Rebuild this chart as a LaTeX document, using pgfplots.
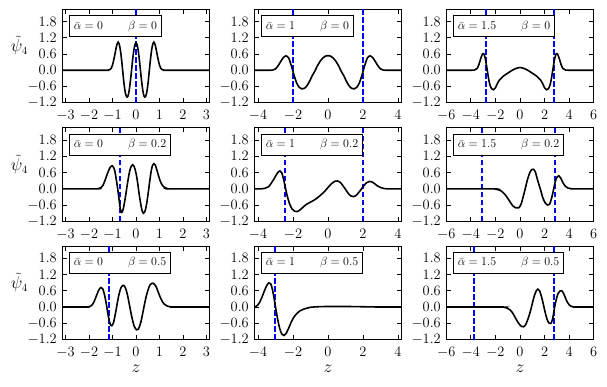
\documentclass[border=0pt]{standalone}
\usepackage{pgfplots}
\pgfplotsset{compat=1.18}
\pgfplotsset{
 panel/.style={scale only axis, width=147.5pt, height=93.4pt, anchor=north west,
   ymin=-1.2, ymax=2.25, ytick={-1.2,-0.6,0,0.6,1.2,1.8},
   yticklabel style={xshift=-2pt, /pgf/number format/.cd, fixed, fixed zerofill, precision=1},
   tick align=inside, xtick pos=both, ytick pos=both, major tick length=4.5pt,
   tick style={black, line width=0.8pt},
   axis line style={line width=1.1pt},
   tick label style={font=\fontsize{15.5}{17}\selectfont},
   xticklabel style={yshift=-4pt},
   label style={font=\fontsize{16}{18}\selectfont}},
 c1/.style={xmin=-3.14, xmax=3.14, xtick={-3,-2,-1,0,1,2,3}},
 c2/.style={xmin=-4.22, xmax=4.22, xtick={-4,-2,0,2,4}},
 c3/.style={xmin=-6, xmax=6, xtick={-6,-4,-2,0,2,4,6}},
 psilab/.style={ylabel={$\tilde\psi_4$}, ylabel style={rotate=-90, at={(rel axis cs:-0.29,0.61)}, anchor=center}},
 zlab/.style={xlabel={$z$}, xlabel style={at={(rel axis cs:0.5,0)}, anchor=center, yshift=-29pt}},
 curve/.style={black, line width=1.6pt, smooth},
 vline/.style={color=blue, line width=2pt, line cap=butt, dash pattern=on 5.5pt off 2.5pt},
}
\tikzset{lbox/.style={draw, fill=white, line width=1.1pt, anchor=north west, inner xsep=4.5pt, inner ysep=5pt, text height=8.5pt, text depth=2.8pt, font=\fontsize{12}{14}\selectfont}}
\newcommand{\boxlab}[2]{\node[lbox] at ([xshift=6.5pt,yshift=-5.7pt]rel axis cs:0,1) {$\bar\alpha=#1$\hspace{25pt}$\beta=#2$};}
\begin{document}
\begin{tikzpicture}
% ---------- row 1 ----------
\begin{axis}[panel, c1, psilab, at={(62.25pt,-9.3pt)}]
\addplot[vline] coordinates {(0,-1.2) (0,2.3)};
\addplot[curve] coordinates {
(-3.2,0) (-1.3,0) (-1.2,0) (-1.15,0.01) (-1.10,0.03) (-1.05,0.08) (-1.00,0.19) (-0.95,0.37) (-0.90,0.58) (-0.85,0.81) (-0.80,0.98) (-0.76,1.04) (-0.72,0.98) (-0.68,0.82) (-0.64,0.58) (-0.60,0.27) (-0.56,-0.08) (-0.52,-0.42) (-0.48,-0.70) (-0.44,-0.89) (-0.40,-0.98) (-0.37,-0.99) (-0.34,-0.95) (-0.30,-0.80) (-0.25,-0.49) (-0.20,-0.09) (-0.15,0.33) (-0.10,0.69) (-0.05,0.93) (0,1.01)
(0.05,0.93) (0.10,0.69) (0.15,0.33) (0.20,-0.09) (0.25,-0.49) (0.30,-0.80) (0.34,-0.95) (0.37,-0.99) (0.40,-0.98) (0.44,-0.89) (0.48,-0.70) (0.52,-0.42) (0.56,-0.08) (0.60,0.27) (0.64,0.58) (0.68,0.82) (0.72,0.98) (0.76,1.04) (0.80,0.98) (0.85,0.81) (0.90,0.58) (0.95,0.37) (1.00,0.19) (1.05,0.08) (1.10,0.03) (1.15,0.01) (1.2,0) (1.3,0) (3.2,0)};
\boxlab{0}{0}
\end{axis}
\begin{axis}[panel, c2, at={(254.25pt,-9.3pt)}]
\addplot[vline] coordinates {(-2,-1.2) (-2,2.3)};
\addplot[vline] coordinates {(2,-1.2) (2,2.3)};
\addplot[curve] coordinates {
(-4.3,0) (-3.3,0) (-3.15,0.01) (-3.0,0.05) (-2.85,0.17) (-2.7,0.33) (-2.55,0.47) (-2.4,0.53) (-2.25,0.45) (-2.1,0.17) (-1.95,-0.17) (-1.8,-0.46) (-1.65,-0.63) (-1.5,-0.69) (-1.35,-0.67) (-1.2,-0.57) (-1.05,-0.40) (-0.9,-0.20) (-0.75,-0.03) (-0.6,0.17) (-0.45,0.33) (-0.3,0.45) (-0.15,0.52) (0,0.54)
(0.15,0.52) (0.3,0.45) (0.45,0.33) (0.6,0.17) (0.75,-0.03) (0.9,-0.20) (1.05,-0.40) (1.2,-0.57) (1.35,-0.67) (1.5,-0.69) (1.65,-0.63) (1.8,-0.46) (1.95,-0.17) (2.1,0.17) (2.25,0.45) (2.4,0.53) (2.55,0.47) (2.7,0.33) (2.85,0.17) (3.0,0.05) (3.15,0.01) (3.3,0) (4.3,0)};
\boxlab{1}{0}
\end{axis}
\begin{axis}[panel, c3, at={(446.25pt,-9.3pt)}]
\addplot[vline] coordinates {(-2.77,-1.2) (-2.77,2.3)};
\addplot[vline] coordinates {(2.77,-1.2) (2.77,2.3)};
\addplot[curve] coordinates {
(-6,0) (-4.0,0) (-3.7,0.01) (-3.5,0.06) (-3.35,0.20) (-3.2,0.42) (-3.05,0.60) (-2.95,0.61) (-2.85,0.48) (-2.75,0.24) (-2.65,-0.04) (-2.55,-0.32) (-2.45,-0.54) (-2.3,-0.69) (-2.15,-0.72) (-2.0,-0.65) (-1.85,-0.50) (-1.7,-0.38) (-1.5,-0.28) (-1.3,-0.20) (-1.1,-0.14) (-0.9,-0.08) (-0.7,-0.02) (-0.5,0.03) (-0.3,0.07) (-0.15,0.09) (0,0.10)
(0.15,0.09) (0.3,0.07) (0.5,0.03) (0.7,-0.02) (0.9,-0.08) (1.1,-0.14) (1.3,-0.20) (1.5,-0.28) (1.7,-0.38) (1.85,-0.50) (2.0,-0.65) (2.15,-0.72) (2.3,-0.69) (2.45,-0.54) (2.55,-0.32) (2.65,-0.04) (2.75,0.24) (2.85,0.48) (2.95,0.61) (3.05,0.60) (3.2,0.42) (3.35,0.20) (3.5,0.06) (3.7,0.01) (4.0,0) (6,0)};
\boxlab{1.5}{0}
\end{axis}
% ---------- row 2 ----------
\begin{axis}[panel, c1, psilab, at={(62.25pt,-127.9pt)}]
\addplot[vline] coordinates {(-0.68,-1.2) (-0.68,2.3)};
\addplot[curve] coordinates {
(-3.2,0) (-1.7,0) (-1.6,0.01) (-1.5,0.04) (-1.4,0.14) (-1.3,0.36) (-1.2,0.60) (-1.1,0.79) (-1.01,0.85) (-0.92,0.72) (-0.85,0.40) (-0.78,0.00) (-0.72,-0.40) (-0.67,-0.72) (-0.62,-0.87) (-0.56,-0.80) (-0.50,-0.56) (-0.42,-0.13) (-0.35,0.27) (-0.27,0.65) (-0.20,0.84) (-0.14,0.89) (-0.08,0.83) (0.0,0.58) (0.07,0.22) (0.13,-0.17) (0.20,-0.55) (0.26,-0.81) (0.32,-0.90) (0.38,-0.84) (0.45,-0.57) (0.52,-0.15) (0.58,0.25) (0.64,0.62) (0.70,0.86) (0.76,0.93) (0.82,0.88) (0.90,0.66) (0.98,0.42) (1.06,0.23) (1.14,0.11) (1.22,0.05) (1.30,0.02) (1.40,0.0) (3.2,0)};
\boxlab{0}{0.2}
\end{axis}
\begin{axis}[panel, c2, at={(254.25pt,-127.9pt)}]
\addplot[vline] coordinates {(-2.46,-1.2) (-2.46,2.3)};
\addplot[vline] coordinates {(2.0,-1.2) (2.0,2.3)};
\addplot[curve] coordinates {
(-4.3,0) (-3.8,0) (-3.6,0.02) (-3.4,0.08) (-3.2,0.25) (-3.0,0.47) (-2.85,0.62) (-2.75,0.66) (-2.65,0.60) (-2.55,0.38) (-2.45,0.08) (-2.35,-0.22) (-2.2,-0.55) (-2.05,-0.75) (-1.9,-0.83) (-1.75,-0.84) (-1.6,-0.78) (-1.4,-0.66) (-1.2,-0.56) (-1.0,-0.49) (-0.8,-0.42) (-0.6,-0.33) (-0.4,-0.22) (-0.2,-0.10) (0.0,0.05) (0.2,0.19) (0.4,0.28) (0.55,0.29) (0.7,0.24) (0.85,0.12) (1.0,-0.02) (1.15,-0.16) (1.3,-0.26) (1.45,-0.29) (1.6,-0.25) (1.75,-0.14) (1.9,-0.02) (2.05,0.12) (2.2,0.22) (2.35,0.27) (2.5,0.26) (2.65,0.20) (2.8,0.12) (3.0,0.05) (3.2,0.01) (3.4,0) (4.3,0)};
\boxlab{1}{0.2}
\end{axis}
\begin{axis}[panel, c3, at={(446.25pt,-127.9pt)}]
\addplot[vline] coordinates {(-3.09,-1.2) (-3.09,2.3)};
\addplot[vline] coordinates {(2.85,-1.2) (2.85,2.3)};
\addplot[curve] coordinates {
(-6,0) (-2.2,0) (-2.0,-0.01) (-1.8,-0.03) (-1.5,-0.09) (-1.2,-0.22) (-0.9,-0.42) (-0.6,-0.62) (-0.35,-0.70) (-0.1,-0.70) (0.1,-0.55) (0.3,-0.22) (0.45,0.05) (0.6,0.33) (0.8,0.60) (0.95,0.71) (1.1,0.72) (1.25,0.62) (1.45,0.29) (1.65,0.0) (1.85,-0.32) (2.05,-0.52) (2.25,-0.60) (2.4,-0.57) (2.55,-0.38) (2.7,-0.09) (2.85,0.23) (3.0,0.43) (3.15,0.48) (3.3,0.41) (3.5,0.22) (3.7,0.09) (3.9,0.03) (4.1,0.01) (4.3,0) (6,0)};
\boxlab{1.5}{0.2}
\end{axis}
% ---------- row 3 ----------
\begin{axis}[panel, c1, psilab, zlab, at={(62.25pt,-246.1pt)}]
\addplot[vline] coordinates {(-1.15,-1.2) (-1.15,2.3)};
\addplot[curve] coordinates {
(-3.2,0) (-2.1,0) (-2.0,0.01) (-1.9,0.05) (-1.8,0.17) (-1.7,0.38) (-1.6,0.60) (-1.5,0.72) (-1.42,0.68) (-1.34,0.45) (-1.26,0.09) (-1.18,-0.33) (-1.10,-0.63) (-1.03,-0.69) (-0.96,-0.58) (-0.88,-0.26) (-0.80,0.13) (-0.72,0.48) (-0.64,0.71) (-0.55,0.80) (-0.46,0.73) (-0.37,0.47) (-0.28,0.08) (-0.18,-0.36) (-0.08,-0.70) (0.02,-0.84) (0.10,-0.82) (0.20,-0.58) (0.30,-0.17) (0.40,0.26) (0.50,0.60) (0.60,0.82) (0.72,0.88) (0.84,0.78) (0.96,0.52) (1.08,0.27) (1.20,0.11) (1.32,0.04) (1.45,0.01) (1.6,0) (3.2,0)};
\boxlab{0}{0.5}
\end{axis}
\begin{axis}[panel, c2, zlab, at={(254.25pt,-246.1pt)}]
\addplot[vline] coordinates {(-3.03,-1.2) (-3.03,2.3)};
\addplot[curve] coordinates {
(-4.22,0.0) (-4.1,0.03) (-3.95,0.13) (-3.8,0.33) (-3.65,0.58) (-3.5,0.80) (-3.38,0.89) (-3.28,0.86) (-3.18,0.65) (-3.08,0.30) (-2.98,-0.08) (-2.88,-0.45) (-2.76,-0.80) (-2.64,-1.00) (-2.52,-1.05) (-2.4,-0.98) (-2.25,-0.78) (-2.1,-0.55) (-1.95,-0.37) (-1.8,-0.25) (-1.6,-0.14) (-1.4,-0.08) (-1.2,-0.04) (-1.0,-0.01) (-0.6,0.01) (0.0,0.02) (1.0,0.02) (2.0,0.01) (3.0,0.0) (4.3,0.0)};
\boxlab{1}{0.5}
\end{axis}
\begin{axis}[panel, c3, zlab, at={(446.25pt,-246.1pt)}]
\addplot[vline] coordinates {(-3.74,-1.2) (-3.74,2.3)};
\addplot[vline] coordinates {(2.77,-1.2) (2.77,2.3)};
\addplot[curve] coordinates {
(-6,0) (-1.6,0) (-1.3,-0.01) (-1.0,-0.05) (-0.8,-0.11) (-0.6,-0.22) (-0.4,-0.38) (-0.2,-0.54) (0.0,-0.67) (0.15,-0.72) (0.3,-0.73) (0.45,-0.66) (0.6,-0.50) (0.75,-0.30) (0.9,-0.06) (1.05,0.22) (1.2,0.46) (1.35,0.62) (1.45,0.66) (1.6,0.59) (1.75,0.38) (1.9,0.10) (2.05,-0.20) (2.2,-0.45) (2.35,-0.59) (2.5,-0.61) (2.65,-0.45) (2.8,-0.05) (2.95,0.28) (3.1,0.50) (3.25,0.59) (3.4,0.60) (3.55,0.50) (3.7,0.33) (3.85,0.18) (4.0,0.08) (4.15,0.03) (4.3,0.01) (4.45,0) (6,0)};
\boxlab{1.5}{0.5}
\end{axis}
\pgfresetboundingbox
\path[use as bounding box] (0,0) rectangle (607pt,-386pt);
\end{tikzpicture}
\end{document}
